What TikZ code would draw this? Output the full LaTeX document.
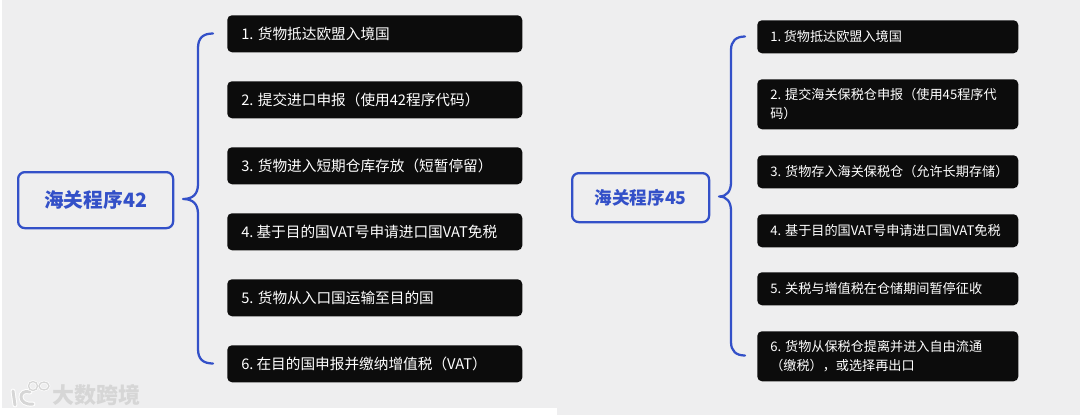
\documentclass[tikz,border=0pt]{standalone}
\usepackage{fontspec}
\setmainfont{Noto Sans CJK SC}
\definecolor{bgc}{HTML}{EEEEEF}
\definecolor{bluec}{HTML}{3350C8}
\definecolor{boxc}{HTML}{0C0C0C}
\definecolor{wmc}{HTML}{D6D6D6}
\tikzset{
 x=0.75pt,y=-0.75pt,
 stepbox/.style={rectangle,rounded corners=3.5pt,fill=boxc,text=white,inner sep=0pt,anchor=north west},
 rootbox/.style={rectangle,rounded corners=5pt,draw=bluec,line width=1.7pt,text=bluec,inner sep=0pt,anchor=north west},
 brace/.style={draw=bluec,line width=1.7pt,line cap=round,line join=round},
 biglaba/.style={font=\fontsize{14.8pt}{18pt}\selectfont\bfseries},
 biglabb/.style={font=\fontsize{13.2pt}{16pt}\selectfont\bfseries},
 smalllab/.style={font=\fontsize{11pt}{14pt}\selectfont,text=white,inner sep=0pt},
 rsmall/.style={font=\fontsize{9.85pt}{14.25pt}\selectfont,text=white,inner sep=0pt},
}
\begin{document}
\begin{tikzpicture}
\useasboundingbox (0,0) rectangle (1080,415);
\fill[white] (0,0) rectangle (1080,415);
\fill[bgc] (2,0) rectangle (557,408);
\fill[bgc] (557,0) rectangle (1080,415);
% left
\node[rootbox,biglaba,minimum width=155*0.75pt,minimum height=56*0.75pt] (rootA) at (17,171) {海关程序42};
\foreach \n/\y/\t in {a1/15/{1. 货物抵达欧盟入境国},a2/81/{2. 提交进口申报（使用42程序代码）},a3/147/{3. 货物进入短期仓库存放（短暂停留）},a4/213/{4. \kern-1pt 基于目的国VAT号申请进口国VAT免税},a5/279/{5. 货物从入口国运输至目的国},a6/345/{6. \kern-1pt 在目的国申报并缴纳增值税（VAT）}}{
 \node[stepbox,minimum width=295*0.75pt,minimum height=37*0.75pt] (\n) at (227,\y) {};
 \node[smalllab,anchor=west] (\n t) at (241,\y+18.5) {\t};
}
\coordinate (at) at (213,33.5);
\coordinate (ab) at (213,363.5);
\coordinate (am) at (183,199);
\draw[brace] (at) .. controls (203,33.5) and (198,38) .. (198,48) -- (198,184) .. controls (198,194) and (193,199) .. (am) .. controls (193,199) and (198,204) .. (198,214) -- (198,349) .. controls (198,359) and (203,363.5) .. (ab);
% right
\node[rootbox,biglabb,minimum width=137*0.75pt,minimum height=49*0.75pt] (rootB) at (571,172) {海关程序45};
\foreach \n/\y/\h/\t in {b1/20/33/{1. \kern-1pt 货物抵达欧盟入境国},b3/155/33/{3. 货物存入海关保税仓（允许长期存储）},b4/214/33/{4. 基于目的国VAT号申请进口国VAT免税},b5/272/33/{5. 关税与增值税在仓储期间暂停征收}}{
 \node[stepbox,minimum width=261*0.75pt,minimum height=\h*0.75pt] (\n) at (757,\y) {};
 \node[rsmall,anchor=west] (\n t) at (770,\y+\h/2) {\t};
}
\node[stepbox,minimum width=261*0.75pt,minimum height=50*0.75pt] (b2) at (757,79) {};
\node[rsmall,anchor=west,align=left] (b2t) at (770,104.5) {2. 提交海关保税仓申报（使用45程序代\\码）};
\node[stepbox,minimum width=261*0.75pt,minimum height=50*0.75pt] (b6) at (757,331) {};
\node[rsmall,anchor=west,align=left] (b6t) at (770,356.5) {6. 货物从保税仓提离并进入自由流通\\（缴税），或选择再出口};
\coordinate (bt) at (745,36.5);
\coordinate (bb) at (745,355.5);
\coordinate (bm) at (719,196.5);
\draw[brace] (bt) .. controls (736,36.5) and (731,41) .. (731,50) -- (731,182) .. controls (731,191) and (727,196.5) .. (bm) .. controls (727,196.5) and (731,202) .. (731,211) -- (731,342) .. controls (731,351) and (736,355.5) .. (bb);
% watermark
\node[text=wmc,font=\fontsize{16.5pt}{18pt}\selectfont\bfseries,anchor=west,inner sep=0pt] (wm) at (52,395) {大数跨境};
\draw[white,line width=3.6pt,line cap=round] (13,391) -- (15,405);
\draw[wmc,line width=2.2pt,line cap=round] (13,391) -- (15,405);
\draw[white,line width=3.6pt,line cap=round] (30,392) .. controls (18,388) and (17,406) .. (33,404);
\draw[wmc,line width=2.2pt,line cap=round] (30,392) .. controls (18,388) and (17,406) .. (33,404);
\draw[white,line width=2pt] (33,386) circle (4.5);
\draw[white,line width=2pt] (44,386) ellipse (5 and 4);
\draw[wmc,line width=1pt] (33,386) circle (4.5);
\draw[wmc,line width=1pt] (44,386) ellipse (5 and 4);
\end{tikzpicture}
\end{document}
